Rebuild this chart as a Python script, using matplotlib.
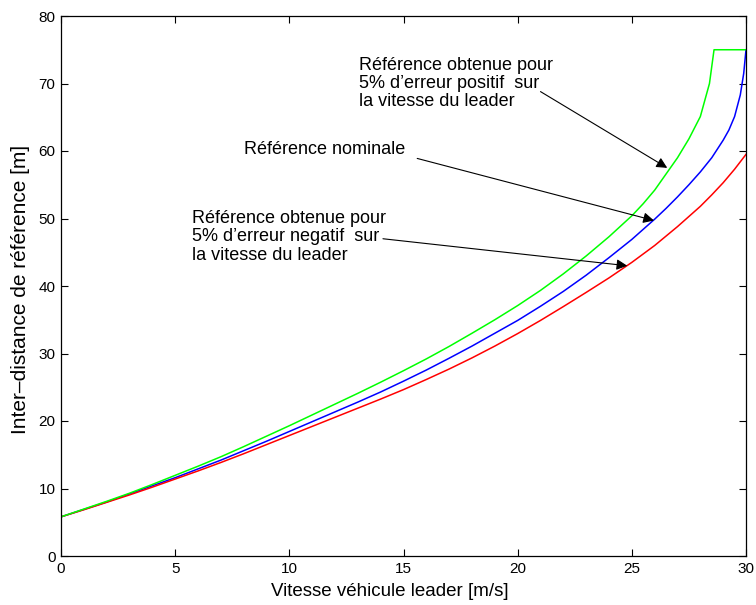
import matplotlib
matplotlib.use("Agg")
import matplotlib.pyplot as plt

plt.rcParams['font.family'] = ['Liberation Sans', 'DejaVu Sans']

# Leader speed [m/s] and reference inter-distance [m]
x_nominal = [0, 1, 2, 3, 4, 5, 6, 7, 8, 9, 10, 11, 12, 13, 14, 15, 16, 17, 18, 19, 20,
             21, 22, 23, 24, 25, 25.5, 26, 26.5, 27, 27.5, 28, 28.5, 29, 29.25, 29.5,
             29.75, 29.9, 30]
y_nominal = [5.8, 6.9, 8.0, 9.2, 10.4, 11.6, 12.9, 14.2, 15.6, 17.0, 18.45, 19.9, 21.35,
             22.8, 24.3, 25.9, 27.55, 29.3, 31.1, 33.0, 34.9, 37.0, 39.2, 41.6, 44.2,
             46.9, 48.4, 49.9, 51.5, 53.2, 55.0, 56.9, 59.0, 61.6, 63.1, 65.1, 68.3,
             71.5, 75.0]

x_positive = [0, 1, 2, 3, 4, 5, 6, 7, 8, 9, 10, 11, 12, 13, 14, 15, 16, 17, 18, 19, 20,
              21, 22, 23, 24, 25, 25.5, 26, 26.5, 27, 27.5, 28, 28.4, 28.6, 30]
y_positive = [5.8, 6.95, 8.1, 9.3, 10.6, 11.95, 13.3, 14.7, 16.2, 17.75, 19.3, 20.9,
              22.5, 24.1, 25.75, 27.45, 29.2, 31.05, 33.0, 35.0, 37.1, 39.35, 41.8, 44.45,
              47.3, 50.4, 52.2, 54.2, 56.6, 59.0, 61.8, 65.1, 70.0, 75.0, 75.0]

x_negative = [0, 1, 2, 3, 4, 5, 6, 7, 8, 9, 10, 11, 12, 13, 14, 15, 16, 17, 18, 19, 20,
              21, 22, 23, 24, 25, 26, 27, 28, 28.5, 29, 29.5, 30]
y_negative = [5.8, 6.85, 7.95, 9.05, 10.2, 11.4, 12.6, 13.85, 15.15, 16.5, 17.85, 19.2,
              20.55, 21.9, 23.25, 24.65, 26.15, 27.7, 29.35, 31.1, 32.95, 34.9, 36.95, 39.05,
              41.2, 43.5, 46.0, 48.8, 51.8, 53.5, 55.3, 57.3, 59.5]

xticks = [0, 5, 10, 15, 20, 25, 30]
yticks = [0, 10, 20, 30, 40, 50, 60, 70, 80]

fig = plt.figure(figsize=(7.56, 6.05), dpi=100)
ax = fig.add_axes([61/756, 1-556/605, (746-61)/756, (556-16)/605])

ax.plot(x_nominal, y_nominal, color=(0, 0, 1), lw=1.1)
ax.plot(x_negative, y_negative, color=(1, 0, 0), lw=1.1)
ax.plot(x_positive, y_positive, color=(0, 1, 0), lw=1.1)

ax.set_xlim(0, 30)
ax.set_ylim(0, 80)
ax.set_xticks(xticks)
ax.set_yticks(yticks)
ax.tick_params(direction='in', top=True, right=True, length=5, width=0.8,
               labelsize=11, pad=4)
for s in ax.spines.values():
    s.set_linewidth(0.9)

ax.set_xlabel('Vitesse véhicule leader [m/s]', fontsize=13.5)
ax.xaxis.set_label_coords(0.48, -0.05)
ax.set_ylabel('Inter–distance de référence [m]', fontsize=15)
ax.yaxis.set_label_coords(-0.045, 0.494)

arrow = dict(arrowstyle='-|>', color='black', lw=0.8, mutation_scale=16,
             shrinkA=0, shrinkB=0)
fs = 13
ax.text(13.05, 70.0, "Référence obtenue pour\n5% d’erreur positif  sur\nla vitesse du leader",
        fontsize=fs, va='center', ha='left', linespacing=1.1)
ax.annotate('', xy=(26.55, 57.5), xytext=(21.0, 68.8), arrowprops=arrow)

ax.text(8.0, 60.2, "Référence nominale", fontsize=fs, va='center', ha='left')
ax.annotate('', xy=(25.97, 49.7), xytext=(15.6, 58.9), arrowprops=arrow)

ax.text(5.75, 47.3, "Référence obtenue pour\n5% d’erreur negatif  sur\nla vitesse du leader",
        fontsize=fs, va='center', ha='left', linespacing=1.1)
ax.annotate('', xy=(24.8, 43.0), xytext=(14.1, 47.0), arrowprops=arrow)

fig.savefig('out.png', dpi=100)
